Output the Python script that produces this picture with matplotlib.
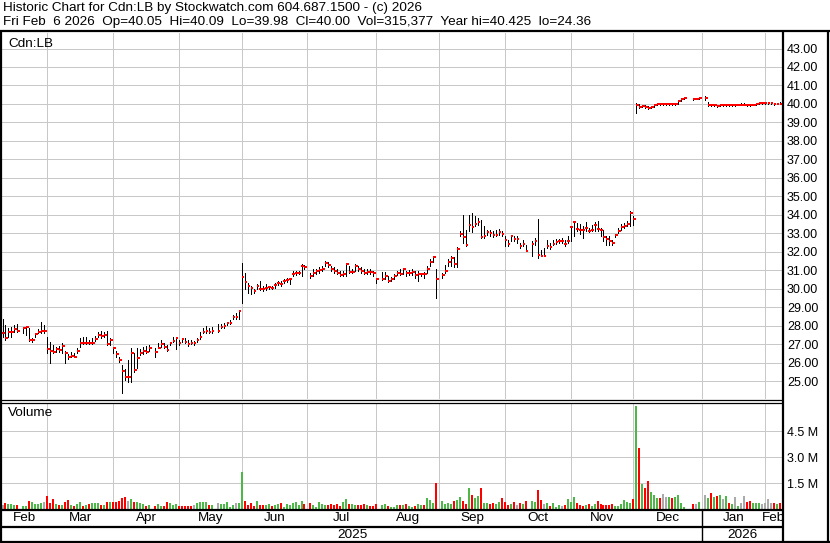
import numpy as np
import pandas as pd
import matplotlib
matplotlib.use("Agg")
import matplotlib.pyplot as plt
from matplotlib.lines import Line2D

W, H = 830, 543
plt.rcParams['font.family'] = ['Liberation Sans', 'DejaVu Sans']
plt.rcParams['font.size'] = 9

# one slot per weekday, Feb 7 2025 .. Feb 6 2026 ; None = market closed
dates = pd.bdate_range('2025-02-07', '2026-02-06')

close = [
    27.59, 27.35, 27.63, 27.66, 27.81, 27.73, None, 27.86, 27.90, 27.21,
    27.23, 27.54, 27.68, 27.72, 27.72, 26.74, 26.65, 26.60, 26.74, 26.69,
    26.92, 26.50, 26.29, 26.36, 26.32, 26.65, 27.08, 27.06, 27.08, 27.05,
    27.08, 27.30, 27.48, 27.45, 27.52, 27.03, 27.23, 26.78, 26.45, 26.14,
    25.56, 25.24, 25.24, 26.50, 25.60, 26.23, 26.50, 26.65, 26.60, 26.78,
    None, 26.56, 26.81, 26.99, 26.87, 26.69, 27.05, 27.19, 27.32, 27.05,
    27.26, 27.10, 26.99, 27.08, 27.08, 27.23, 27.41, 27.68, 27.73, 27.63,
    27.72, None, 27.73, 27.95, 27.97, 28.13, 28.17, 28.49, 28.49, 28.81,
    30.64, 30.36, 30.15, 30.02, 29.87, 30.15, 30.00, 29.96, 30.05, 30.07,
    30.04, 30.20, 30.29, 30.27, 30.42, 30.45, 30.51, 30.82, 30.84, 30.86,
    31.25, 31.18, None, 30.69, 30.84, 30.98, 31.03, 31.07, 31.38, 31.27,
    31.09, 30.95, 30.87, 30.75, 30.82, 31.33, 30.91, 30.93, 31.24, 31.09,
    30.96, 30.87, 30.93, 30.91, 30.84, 30.51, None, 30.55, 30.69, 30.42,
    30.51, 30.69, 30.87, 30.82, 31.05, 30.84, 30.87, 30.91, 30.73, 30.78,
    30.82, 30.78, 31.05, 31.47, 31.73, 30.51, None, 30.75, 30.98, 31.47,
    31.64, 31.36, 32.15, 32.96, 32.78, 32.34, 33.43, 33.32, 33.50, 33.59,
    32.78, 32.83, 33.05, 33.01, 32.88, 32.90, 33.05, 32.97, 32.65, 32.41,
    32.83, 32.70, 32.70, 32.32, 32.41, 32.05, None, 32.41, 32.56, 31.84,
    31.78, 31.78, 32.32, 32.25, 32.43, 32.52, 32.56, 32.56, 32.41, 32.56,
    33.32, 33.61, 33.23, 33.20, 33.17, 33.28, 33.14, 33.19, 33.43, 33.23,
    33.19, 32.78, 32.70, 32.59, 32.47, 32.88, 33.10, 33.32, 33.37, 33.50,
    34.10, 33.77, 39.95, 39.85, 39.88, 39.82, 39.78, 39.85, 39.95, 40.00,
    39.98, 39.98, 39.98, 40.00, 39.98, 40.00, 40.18, 40.25, 40.33, None,
    None, 40.29, 40.29, 40.33, None, 40.33, 39.95, 39.97, 39.93, 39.90,
    39.93, 39.93, 39.95, 39.92, 39.94, 39.94, 39.96, 39.96, 39.96, 39.94,
    39.92, 39.96, 40.00, 40.03, 40.03, 40.03, 40.03, 40.03, 40.00, 40.02,
    40.00,
]

high = [
    28.35, 28.04, 27.86, 27.95, 28.04, 28.10, None, 27.92, 27.95, 27.86,
    27.32, 27.59, 27.81, 28.19, 28.02, 27.41, 27.14, 26.96, 26.87, 26.90,
    27.05, 26.65, 26.47, 26.60, 26.50, 26.78, 27.32, 27.37, 27.37, 27.23,
    27.32, 27.44, 27.68, 27.73, 27.68, 27.72, 27.32, 26.87, 26.65, 26.29,
    25.87, 25.65, 26.14, 26.78, 26.50, 26.78, 26.72, 26.83, 26.90, 26.96,
    None, 26.78, 27.08, 27.23, 27.05, 26.96, 27.14, 27.41, 27.41, 27.23,
    27.35, 27.32, 27.23, 27.23, 27.19, 27.32, 27.68, 27.86, 27.99, 27.86,
    27.92, None, 28.10, 28.10, 28.17, 28.22, 28.31, 28.58, 28.67, 28.86,
    31.38, 30.87, 30.33, 30.15, 29.96, 30.24, 30.42, 30.15, 30.24, 30.15,
    30.15, 30.33, 30.42, 30.42, 30.55, 30.60, 30.60, 30.96, 30.96, 30.96,
    31.33, 31.27, None, 30.87, 31.05, 31.09, 31.15, 31.24, 31.51, 31.42,
    31.24, 31.15, 31.05, 30.96, 30.96, 31.38, 31.24, 31.05, 31.33, 31.24,
    31.15, 31.05, 31.05, 31.05, 30.96, 30.60, None, 30.91, 30.91, 30.69,
    30.65, 30.78, 30.96, 31.05, 31.09, 30.96, 31.00, 31.05, 30.96, 30.96,
    30.87, 30.91, 31.24, 31.60, 31.78, 31.09, None, 30.87, 31.27, 31.60,
    31.78, 31.69, 32.24, 33.10, 34.01, 33.19, 34.01, 34.10, 33.92, 33.82,
    33.73, 33.37, 33.19, 33.19, 33.10, 33.19, 33.23, 33.10, 32.83, 32.65,
    32.87, 32.83, 32.83, 32.47, 32.65, 32.38, None, 32.56, 32.74, 33.79,
    32.11, 32.20, 32.65, 32.47, 32.65, 32.69, 32.69, 32.74, 32.65, 32.83,
    33.37, 33.64, 33.55, 33.50, 33.37, 33.59, 33.28, 33.46, 33.59, 33.64,
    33.28, 33.19, 32.83, 32.83, 32.65, 32.97, 33.28, 33.50, 33.55, 33.64,
    34.19, 33.92, 40.05, 40.00, 39.95, 39.92, 39.88, 39.90, 39.98, 40.02,
    40.02, 40.00, 40.00, 40.02, 40.01, 40.02, 40.20, 40.28, 40.35, None,
    None, 40.32, 40.33, 40.35, None, 40.425, 40.10, 40.00, 39.98, 39.95,
    39.98, 39.97, 39.98, 39.96, 39.97, 39.98, 40.00, 40.03, 40.05, 40.00,
    39.96, 40.00, 40.05, 40.08, 40.06, 40.07, 40.05, 40.06, 40.05, 40.06,
    40.09,
]

low = [
    27.37, 27.23, 27.37, 27.41, 27.68, 27.68, None, 27.59, 27.50, 27.16,
    27.14, 27.41, 27.59, 27.59, 27.59, 26.54, 25.96, 26.50, 26.60, 26.60,
    26.50, 25.96, 26.18, 26.29, 26.29, 26.50, 26.87, 26.99, 26.99, 26.99,
    26.99, 27.19, 27.41, 27.32, 27.41, 26.96, 26.96, 26.50, 26.32, 26.05,
    24.36, 25.06, 24.97, 24.97, 25.51, 25.69, 26.41, 26.47, 26.50, 26.65,
    None, 26.32, 26.78, 26.87, 26.78, 26.65, 26.96, 27.14, 26.74, 26.96,
    27.14, 27.05, 26.92, 27.01, 26.96, 27.14, 27.26, 27.59, 27.59, 27.59,
    27.59, None, 27.68, 27.86, 27.86, 28.04, 28.10, 28.35, 28.35, 28.35,
    29.24, 29.96, 29.78, 29.69, 29.75, 29.96, 29.93, 29.87, 29.91, 29.96,
    29.96, 30.05, 30.18, 30.15, 30.33, 30.36, 30.24, 30.69, 30.73, 30.78,
    30.69, 31.05, None, 30.60, 30.69, 30.78, 30.87, 30.96, 31.24, 31.15,
    30.96, 30.87, 30.78, 30.69, 30.69, 30.69, 30.87, 30.87, 30.96, 30.96,
    30.87, 30.78, 30.78, 30.78, 30.69, 30.33, None, 30.47, 30.51, 30.36,
    30.42, 30.55, 30.73, 30.73, 30.78, 30.69, 30.73, 30.73, 30.60, 30.42,
    30.69, 30.60, 30.87, 31.24, 31.42, 29.49, None, 30.60, 30.87, 31.24,
    31.24, 31.18, 31.20, 32.83, 32.50, 32.29, 33.10, 33.05, 33.37, 33.46,
    32.74, 32.74, 32.92, 32.83, 32.79, 32.83, 32.88, 32.83, 32.32, 32.29,
    32.56, 32.56, 32.47, 32.20, 32.29, 32.02, None, 31.78, 32.38, 31.65,
    31.75, 31.75, 32.20, 32.14, 32.38, 32.43, 32.47, 32.47, 32.29, 32.47,
    32.56, 32.87, 33.10, 32.97, 32.74, 33.10, 33.05, 33.10, 33.10, 33.10,
    32.83, 32.56, 32.38, 32.38, 32.38, 32.79, 33.01, 33.19, 33.28, 33.41,
    33.41, 33.46, 39.50, 39.80, 39.82, 39.78, 39.75, 39.78, 39.85, 39.93,
    39.95, 39.95, 39.95, 39.96, 39.95, 39.96, 40.00, 40.15, 40.28, None,
    None, 40.20, 40.25, 40.28, None, 40.20, 39.90, 39.90, 39.88, 39.86,
    39.88, 39.90, 39.90, 39.88, 39.90, 39.90, 39.92, 39.93, 39.93, 39.90,
    39.88, 39.92, 39.96, 39.99, 40.00, 40.00, 40.00, 40.00, 39.97, 39.98,
    39.98,
]

# volume in millions of shares
volume = [
    0.23, 0.35, 0.29, 0.29, 0.23, 0.23, None, 0.17, 0.17, 0.46,
    0.40, 0.29, 0.29, 0.35, 0.40, 0.75, 0.35, 0.58, 0.29, 0.23,
    0.23, 0.40, 0.52, 0.23, 0.17, 0.29, 0.40, 0.17, 0.23, 0.29,
    0.35, 0.35, 0.35, 0.23, 0.23, 0.40, 0.40, 0.40, 0.40, 0.46,
    0.63, 0.69, 0.46, 0.58, 0.40, 0.40, 0.35, 0.29, 0.17, 0.23,
    None, 0.17, 0.29, 0.17, 0.17, 0.40, 0.35, 0.23, 0.29, 0.17,
    0.17, 0.17, 0.17, 0.17, 0.23, 0.35, 0.40, 0.40, 0.40, 0.23,
    0.23, None, 0.35, 0.29, 0.29, 0.40, 0.12, 0.23, 0.35, 0.35,
    2.13, 0.46, 0.23, 0.35, 0.17, 0.46, 0.23, 0.23, 0.23, 0.29,
    0.17, 0.23, 0.29, 0.35, 0.12, 0.29, 0.23, 0.35, 0.40, 0.23,
    0.46, 0.29, None, 0.35, 0.23, 0.12, 0.40, 0.29, 0.23, 0.23,
    0.29, 0.23, 0.29, 0.17, 0.40, 0.58, 0.29, 0.29, 0.23, 0.23,
    0.23, 0.29, 0.23, 0.17, 0.17, 0.29, None, 0.23, 0.29, 0.17,
    0.12, 0.12, 0.23, 0.23, 0.23, 0.29, 0.17, 0.12, 0.17, 0.29,
    0.23, 0.23, 0.63, 0.52, 0.35, 1.50, None, 0.46, 0.29, 0.35,
    0.29, 0.46, 0.52, 0.69, 0.46, 0.29, 1.21, 0.81, 0.63, 0.75,
    1.21, 0.35, 0.35, 0.29, 0.35, 0.29, 0.40, 0.63, 0.40, 0.23,
    0.29, 0.40, 0.23, 0.35, 0.29, 0.46, None, 0.46, 0.40, 1.10,
    0.52, 0.29, 0.35, 0.17, 0.35, 0.12, 0.23, 0.17, 0.23, 0.58,
    0.40, 0.69, 0.35, 0.23, 0.17, 0.23, 0.29, 0.17, 0.29, 0.46,
    0.29, 0.23, 0.23, 0.23, 0.29, 0.17, 0.17, 0.29, 0.52, 0.40,
    0.35, 0.58, 5.94, 3.54, 1.44, 1.21, 1.62, 0.98, 0.81, 0.63,
    0.63, 0.87, 0.69, 0.69, 0.63, 0.69, 0.81, 0.35, 0.12, None,
    None, 0.29, 0.29, 0.40, None, 0.81, 0.63, 0.92, 0.69, 0.75,
    0.81, 0.58, 0.75, 0.35, 0.29, 0.69, 0.17, 0.35, 0.75, 0.40,
    0.46, 0.35, 0.35, 0.35, 0.29, 0.35, 0.58, 0.35, 0.35, 0.29,
    0.32,
]

# volume bar colour: g = up day, r = down day, n = unchanged, . = closed
vol_dir = ("nrgggr.ggr" "ggggnrrrgr" "grrgrggrgr" "gggrgrgrrr"
           "rrngrgggrg" ".rggrrgggr" "rrrrnggggr" "g.ngggggng"
           "grrrrgrrgg" "rggrgggggg" "gr.rgggggr" "rrrrggrggr"
           "rrgrrr.ggr" "gggrgrggrg" "grgggr.ggg" "grggrrgrgg"
           "rggrrggrrr" "grnrgr.ggr" "rngrgggnrg" "ggrrrgrggr"
           "rrrrrggggg" "grgrgrrggg" "rnngrgggg." ".rng.ngrgr"
           "gngrgngnnr" "rgggnnnnrg" "r")

price_ticks = list(range(25, 44))
vol_ticks = [1.5, 3.0, 4.5]

header1 = "Historic Chart for Cdn:LB by Stockwatch.com 604.687.1500 - (c) 2026"
header2 = ("Fri Feb  6 2026  Op=40.05  Hi=40.09  Lo=39.98  Cl=40.00  "
           "Vol=315,377  Year hi=40.425  lo=24.36")

# ---------------------------------------------------------------------------
GRID = '#c8c8c8'
GREEN = '#4cb848'
RED = '#ff0000'
GRAY = '#aaaaaa'
colmap = {'g': GREEN, 'r': RED, 'n': GRAY}
TXT = 9.7      # header / label text size
PX = 0.72      # one pixel in points


def box(x0, y0, x1, y1):
    return [x0 / W, 1 - y1 / H, (x1 - x0) / W, (y1 - y0) / H]


def fig_line(fig, xs, ys, lw=1.5):
    fig.add_artist(Line2D([x / W for x in xs], [1 - y / H for y in ys],
                          transform=fig.transFigure, color='black', lw=lw,
                          solid_capstyle='butt'))


x = np.arange(len(dates))
c = np.array([np.nan if v is None else v for v in close])
hi = np.array([np.nan if v is None else v for v in high])
lo = np.array([np.nan if v is None else v for v in low])
vol = np.array([np.nan if v is None else v for v in volume])
ok = ~np.isnan(c)

# month grid lines sit on the last weekday on or before the 1st
month_starts = pd.date_range('2025-03-01', '2026-02-01', freq='MS')
grid_idx = [np.searchsorted(dates, m, side='right') - 1 for m in month_starts]
XMIN, XMAX = -0.17, 260.7
edges = [XMIN] + grid_idx + [XMAX]
month_lbl = ['Feb'] + [m.strftime('%b') for m in month_starts]
year_split = grid_idx[-2]  # Jan 2026

fig = plt.figure(figsize=(W / 100, H / 100), dpi=100)

fig.text(3 / W, 1 - 8.5 / H, header1, va='center', ha='left', fontsize=TXT)
fig.text(3 / W, 1 - 22.5 / H, header2, va='center', ha='left', fontsize=TXT)

# ---- price panel
ax = fig.add_axes(box(2, 33, 782, 399))
ax.set_xlim(XMIN, XMAX)
ax.set_ylim(24.03, 43.84)
for t in price_ticks:
    ax.axhline(t, color=GRID, lw=PX, zorder=0, antialiased=False)
for g in grid_idx:
    ax.axvline(g, color=GRID, lw=PX, zorder=0, antialiased=False)
ax.vlines(x[ok], lo[ok], hi[ok], color='black', lw=PX, zorder=2,
          antialiased=False)
ax.hlines(c[ok], x[ok] - 0.05, x[ok] + 0.85, color=RED, lw=2 * PX, zorder=3,
          antialiased=False)
ax.yaxis.tick_right()
ax.set_yticks(price_ticks)
ax.set_yticklabels([f'{t:.2f}' for t in price_ticks])
ax.set_xticks([])
ax.tick_params(axis='y', length=0, pad=3.5)
for s in ax.spines.values():
    s.set_visible(False)
ax.text(6 / 780, 1 - 11 / 366, 'Cdn:LB', transform=ax.transAxes,
        va='center', ha='left', fontsize=TXT)

# ---- volume panel
av = fig.add_axes(box(2, 403, 782, 509))
av.set_xlim(XMIN, XMAX)
av.set_ylim(0, 6.12)
for t in vol_ticks:
    av.axhline(t, color=GRID, lw=PX, zorder=0, antialiased=False)
for g in grid_idx:
    av.axvline(g, color=GRID, lw=PX, zorder=0, antialiased=False)
vok = ~np.isnan(vol)
av.bar(x[vok], vol[vok], width=0.67, color=[colmap[vol_dir[i]] for i in x[vok]],
       zorder=2)
av.yaxis.tick_right()
av.set_yticks(vol_ticks)
av.set_yticklabels([f'{t:.1f} M' for t in vol_ticks])
av.set_xticks([])
av.tick_params(axis='y', length=0, pad=3.5)
for s in av.spines.values():
    s.set_visible(False)
av.text(6 / 780, 1 - 10 / 106, 'Volume', transform=av.transAxes,
        va='center', ha='left', fontsize=TXT)

# ---- month strip
am = fig.add_axes(box(2, 510, 782, 526))
am.set_xlim(XMIN, XMAX)
am.set_ylim(0, 1)
am.axis('off')
for a, b, name in zip(edges[:-1], edges[1:], month_lbl):
    am.text((a + b) / 2, 0.5, name, ha='center', va='center', clip_on=True,
            fontsize=TXT)

# ---- year strip
ay = fig.add_axes(box(2, 527, 782, 541))
ay.set_xlim(XMIN, XMAX)
ay.set_ylim(0, 1)
ay.axis('off')
ay.text((XMIN + year_split) / 2, 0.45, '2025', ha='center', va='center',
        fontsize=TXT)
ay.text((year_split + XMAX) / 2, 0.45, '2026', ha='center', va='center',
        fontsize=TXT)

# ---- frame lines
split_px = 2 + (year_split - XMIN) / (XMAX - XMIN) * 780
fig_line(fig, [0, W], [31, 31], lw=1.6)
fig_line(fig, [1, 1], [31, H], lw=1.6)
fig_line(fig, [782.5, 782.5], [31, H], lw=1.6)
fig_line(fig, [827.5, 827.5], [31, H], lw=1.6)
fig_line(fig, [0, 782], [399.5, 399.5], lw=0.9)
fig_line(fig, [0, 782], [402.5, 402.5], lw=0.9)
fig_line(fig, [0, 782], [509.5, 509.5], lw=1.6)
fig_line(fig, [0, 782], [526.5, 526.5], lw=1.6)
fig_line(fig, [0, W], [541.5, 541.5], lw=1.6)
fig_line(fig, [split_px, split_px], [510, 541], lw=1.0)

fig.savefig('out.png', dpi=100)
